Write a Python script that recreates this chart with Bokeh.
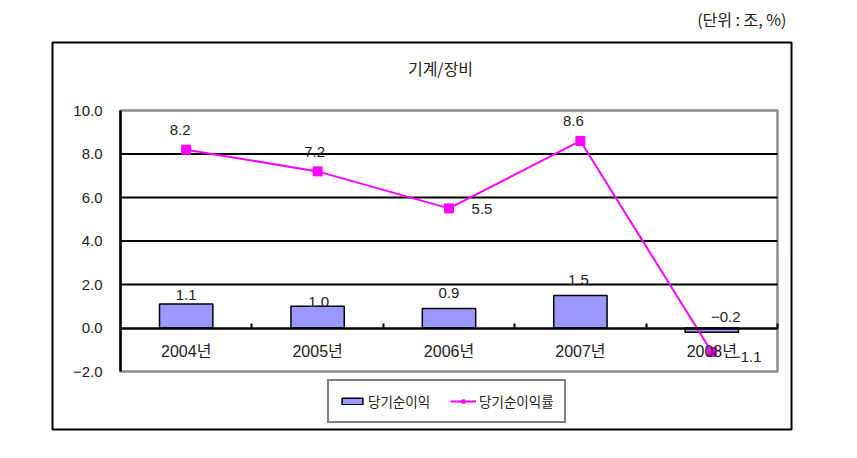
import numpy as np
from bokeh.plotting import figure
from bokeh.models import (Range1d, FixedTicker, Legend, LegendItem, Label,
                          BoxAnnotation, ColumnDataSource)
from bokeh.core.properties import value
from bokeh.embed import file_html
from bokeh.resources import INLINE

# ---- data ----
categories = ["2004년", "2005년", "2006년", "2007년", "2008년"]
net_income = [1.1, 1.0, 0.9, 1.5, -0.2]          # 당기순이익 (조)
net_margin = [8.2, 7.2, 5.5, 8.6, -1.1]          # 당기순이익률 (%)
y_ticks = [-2.0, 0.0, 2.0, 4.0, 6.0, 8.0, 10.0]
grid_ticks = [2.0, 4.0, 6.0, 8.0]
title_text = "기계/장비"
unit_text = "(단위 : 조, %)"
bar_name = "당기순이익"
line_name = "당기순이익률"

# ---- layout (pixels) ----
W, H = 857, 458
PL, PR, PT, PB = 120, 777, 110, 371      # plot area
BOX = (52, 791, 42, 429)                 # outer chart box (l, r, t, b)

# ---- label offsets (screen px, style only) ----
bar_lbl_dx = [0, 1, 0, -2, 14]
bar_lbl_dy = [-9, -4, -15, -15, -15]
line_lbl_dx = [-6, -3, 33, -7, 35]
line_lbl_dy = [-20, -19, 1, -20, 5]

FONT = "Liberation Sans, Noto Sans CJK KR"
KFONT = "Noto Sans CJK KR"
TXT = "#222222"

def fmt(v):
    return f"{v:.1f}".replace("-", "\u2212")

n = len(categories)
xs = np.arange(n) + 0.5
ymin, ymax = y_ticks[0], y_ticks[-1]

# map whole canvas to data so that the plot area spans [0,n] x [ymin,ymax]
xpp = n / (PR - PL)
ypp = (ymax - ymin) / (PB - PT)
x_range = Range1d(0 - PL * xpp, n + (W - PR) * xpp)
y_range = Range1d(ymin - (H - PB) * ypp, ymax + PT * ypp)

p = figure(width=W, height=H, output_backend="svg", toolbar_location=None,
           x_range=x_range, y_range=y_range,
           min_border=0, min_border_left=0, min_border_right=0,
           min_border_top=0, min_border_bottom=0)
p.background_fill_color = "white"
p.border_fill_color = "white"
p.outline_line_color = None
p.xgrid.visible = False
p.ygrid.visible = False

# plot-area frame (grey) and horizontal grid lines
p.quad(left=[0], right=[n], bottom=[ymin], top=[ymax], fill_color=None,
       line_color="#8c8c8c", line_width=2.5)
p.segment(x0=[0] * len(grid_ticks), x1=[n] * len(grid_ticks),
          y0=grid_ticks, y1=grid_ticks, line_color="black", line_width=2)

# y axis
yax = p.yaxis[0]
yax.fixed_location = 0
yax.bounds = (ymin, ymax)
yax.ticker = FixedTicker(ticks=y_ticks)
yax.major_label_overrides = {t: fmt(t) for t in y_ticks}
yax.axis_line_color = "black"
yax.axis_line_width = 2.5
yax.major_tick_out = 0
yax.major_tick_in = 0
yax.minor_tick_line_color = None
yax.major_label_standoff = 18
yax.major_label_text_font = FONT
yax.major_label_text_font_size = "15px"
yax.major_label_text_color = TXT

# x axis at zero
xax = p.xaxis[0]
xax.fixed_location = 0
xax.bounds = (0, n)
xax.ticker = FixedTicker(ticks=list(xs), minor_ticks=list(range(1, n + 1)))
xax.major_label_overrides = {float(x): c for x, c in zip(xs, categories)}
xax.axis_line_color = "black"
xax.axis_line_width = 2.5
xax.major_tick_out = 0
xax.major_tick_in = 0
xax.minor_tick_in = 5
xax.minor_tick_out = 0
xax.minor_tick_line_color = "black"
xax.minor_tick_line_width = 2
xax.major_label_standoff = 15
xax.major_label_text_font = FONT
xax.major_label_text_font_size = "16px"
xax.major_label_text_color = TXT

# bars
bars = p.vbar(x=xs, top=net_income, bottom=0, width=0.406,
              fill_color="#9999FF", line_color="black", line_width=1.5)
# line
ln = p.line(x=xs, y=net_margin, line_color="#FF00FF", line_width=2)
mk = p.scatter(x=xs, y=net_margin, marker="square", size=9,
               fill_color="#FF00FF", line_color="#FF00FF")

# value labels
bsrc = ColumnDataSource(dict(x=xs, y=net_income, t=[fmt(v) for v in net_income],
                             dx=bar_lbl_dx, dy=bar_lbl_dy))
p.text(x="x", y="y", text="t", x_offset="dx", y_offset="dy", source=bsrc,
       text_align="center", text_baseline="middle", text_font=value(FONT),
       text_font_size="15px", text_color=TXT)
lsrc = ColumnDataSource(dict(x=xs, y=net_margin, t=[fmt(v) for v in net_margin],
                             dx=line_lbl_dx, dy=line_lbl_dy))
p.text(x="x", y="y", text="t", x_offset="dx", y_offset="dy", source=lsrc,
       text_align="center", text_baseline="middle", text_font=value(FONT),
       text_font_size="15px", text_color=TXT)

# legend
legend = Legend(items=[LegendItem(label=bar_name, renderers=[bars]),
                       LegendItem(label=line_name, renderers=[ln, mk])],
                orientation="horizontal", location=(327, H - 423),
                padding=10, spacing=20, glyph_width=26, glyph_height=8,
                label_height=8, label_standoff=3,
                label_text_font=KFONT, label_text_font_size="13.5px",
                label_text_color=TXT,
                border_line_color="black", border_line_width=2,
                background_fill_color="white", background_fill_alpha=1)
p.add_layout(legend, "center")

# title & unit
p.add_layout(Label(x=440, y=H - 67, x_units="screen", y_units="screen",
                   text=title_text, text_align="center", text_baseline="middle",
                   text_font=KFONT, text_font_size="16px", text_color=TXT))
p.add_layout(Label(x=786, y=H - 18, x_units="screen", y_units="screen",
                   text=unit_text, text_align="right", text_baseline="middle",
                   text_font=KFONT, text_font_size="16px", text_color=TXT))

# outer box
bl, br, bt, bb = BOX
p.add_layout(BoxAnnotation(left=bl, right=br, top=bt, bottom=bb,
                           left_units="canvas", right_units="canvas",
                           top_units="canvas", bottom_units="canvas",
                           fill_alpha=0, line_color="black", line_width=2,
                           line_alpha=1, level="underlay"))

open("out.html", "w").write(file_html(p, INLINE))
